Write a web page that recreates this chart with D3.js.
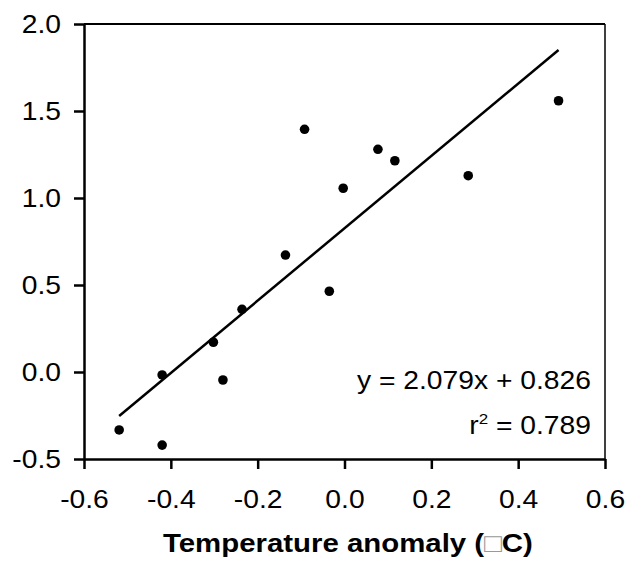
<!DOCTYPE html>
<html lang="en">
  <head>
    <meta charset="utf-8">
    <title>Temperature anomaly scatter</title>
    <style>
      body { margin: 0; background: #fff; }
      text { font-family: "Liberation Sans", Arial, sans-serif; fill: #000; }
      .axis text { font-size: 25px; }
      .axis .domain { stroke: #000; stroke-width: 2.5px; }
      .axis .tick line { stroke: #000; stroke-width: 2.5px; }
      .fit { fill: none; stroke: #000; stroke-width: 2.5px; }
    </style>
  </head>
  <body>
    <svg id="wrapper" width="631" height="563"></svg>

    <script src="https://cdnjs.cloudflare.com/ajax/libs/d3/7.8.5/d3.min.js"></script>
    <script>
    // data
    const tempAnomaly = [-0.519, -0.420, -0.420, -0.302, -0.280, -0.236, -0.136, -0.092, -0.035, -0.003, 0.077, 0.116, 0.285, 0.493];
    const response    = [-0.333, -0.420, -0.017, 0.171, -0.046, 0.360, 0.672, 1.395, 0.464, 1.056, 1.280, 1.214, 1.128, 1.559];
    const slope = 2.079;
    const intercept = 0.826;
    const rSquared = 0.789;
    const xTicks = [-0.6, -0.4, -0.2, 0.0, 0.2, 0.4, 0.6];
    const yTicks = [-0.5, 0.0, 0.5, 1.0, 1.5, 2.0];

    const margin = {top: 24, right: 26, bottom: 104, left: 84};
    const svg = d3.select('#wrapper');
    const width = +svg.attr('width') - margin.left - margin.right;
    const height = +svg.attr('height') - margin.top - margin.bottom;

    // the original text is a bit wider than plain Arial
    const stretch = 1.13;
    function widen(sel) {
      sel.each(function() {
        const len = this.getComputedTextLength();
        d3.select(this)
          .attr('textLength', len * stretch)
          .attr('lengthAdjust', 'spacingAndGlyphs');
      });
    }

    const g = svg.append('g')
      .attr('transform', 'translate(' + margin.left + ',' + margin.top + ')');

    const x = d3.scaleLinear().domain([-0.6, 0.6]).range([0, width]);
    const y = d3.scaleLinear().domain([-0.5, 2.0]).range([height, 0]);

    const fmt = d => d.toFixed(1);

    // top and right frame
    g.append('line')
      .attr('x1', 0).attr('x2', width).attr('y1', 0).attr('y2', 0)
      .attr('stroke', '#000').attr('stroke-width', 2);
    g.append('line')
      .attr('x1', width).attr('x2', width).attr('y1', 0).attr('y2', height)
      .attr('stroke', '#000').attr('stroke-width', 1.5);

    // axes
    g.append('g')
      .attr('class', 'axis axis-x')
      .attr('transform', 'translate(0,' + height + ')')
      .call(d3.axisBottom(x).tickValues(xTicks).tickFormat(fmt)
        .tickSizeInner(10).tickSizeOuter(0).tickPadding(21));

    g.append('g')
      .attr('class', 'axis axis-y')
      .call(d3.axisLeft(y).tickValues(yTicks).tickFormat(fmt)
        .tickSizeInner(10).tickSizeOuter(0).tickPadding(13));

    g.selectAll('.axis text').attr('fill', '#000').call(widen);

    // regression line over the data range
    const xr = d3.extent(tempAnomaly);
    const fitLine = d3.line()
      .x(d => x(d))
      .y(d => y(slope * d + intercept));
    g.append('path')
      .datum(xr)
      .attr('class', 'fit')
      .attr('d', fitLine);

    // points
    g.selectAll('circle.pt')
      .data(tempAnomaly)
      .enter().append('circle')
      .attr('class', 'pt')
      .attr('cx', d => x(d))
      .attr('cy', (d, i) => y(response[i]))
      .attr('r', 4.8)
      .attr('fill', '#000');

    // equation
    g.append('text')
      .attr('x', 507).attr('y', 365)
      .attr('text-anchor', 'end')
      .style('font-size', '25px')
      .text('y = ' + slope.toFixed(3) + 'x + ' + intercept.toFixed(3))
      .call(widen);

    const r2 = g.append('text')
      .attr('x', 507).attr('y', 410)
      .attr('text-anchor', 'end')
      .style('font-size', '25px');
    r2.append('tspan').text('r');
    r2.append('tspan').attr('dy', -10).style('font-size', '15px').text('2');
    r2.append('tspan').attr('dy', 10).text(' = ' + rSquared.toFixed(3));
    r2.call(widen);

    // x title, clipped on the right like the original
    svg.append('clipPath').attr('id', 'titleclip')
      .append('rect').attr('x', 0).attr('y', 500).attr('width', 532).attr('height', 63);

    const title = svg.append('text')
      .attr('clip-path', 'url(#titleclip)')
      .attr('x', 163).attr('y', 552)
      .style('font-size', '26px')
      .style('font-weight', 'bold');
    title.append('tspan').text('Temperature anomaly (');
    title.append('tspan').style('font-weight', 'normal').style('fill', '#999').text('\u25A1');
    title.append('tspan').text('C)');
    title.call(widen);
    </script>
  </body>
</html>
